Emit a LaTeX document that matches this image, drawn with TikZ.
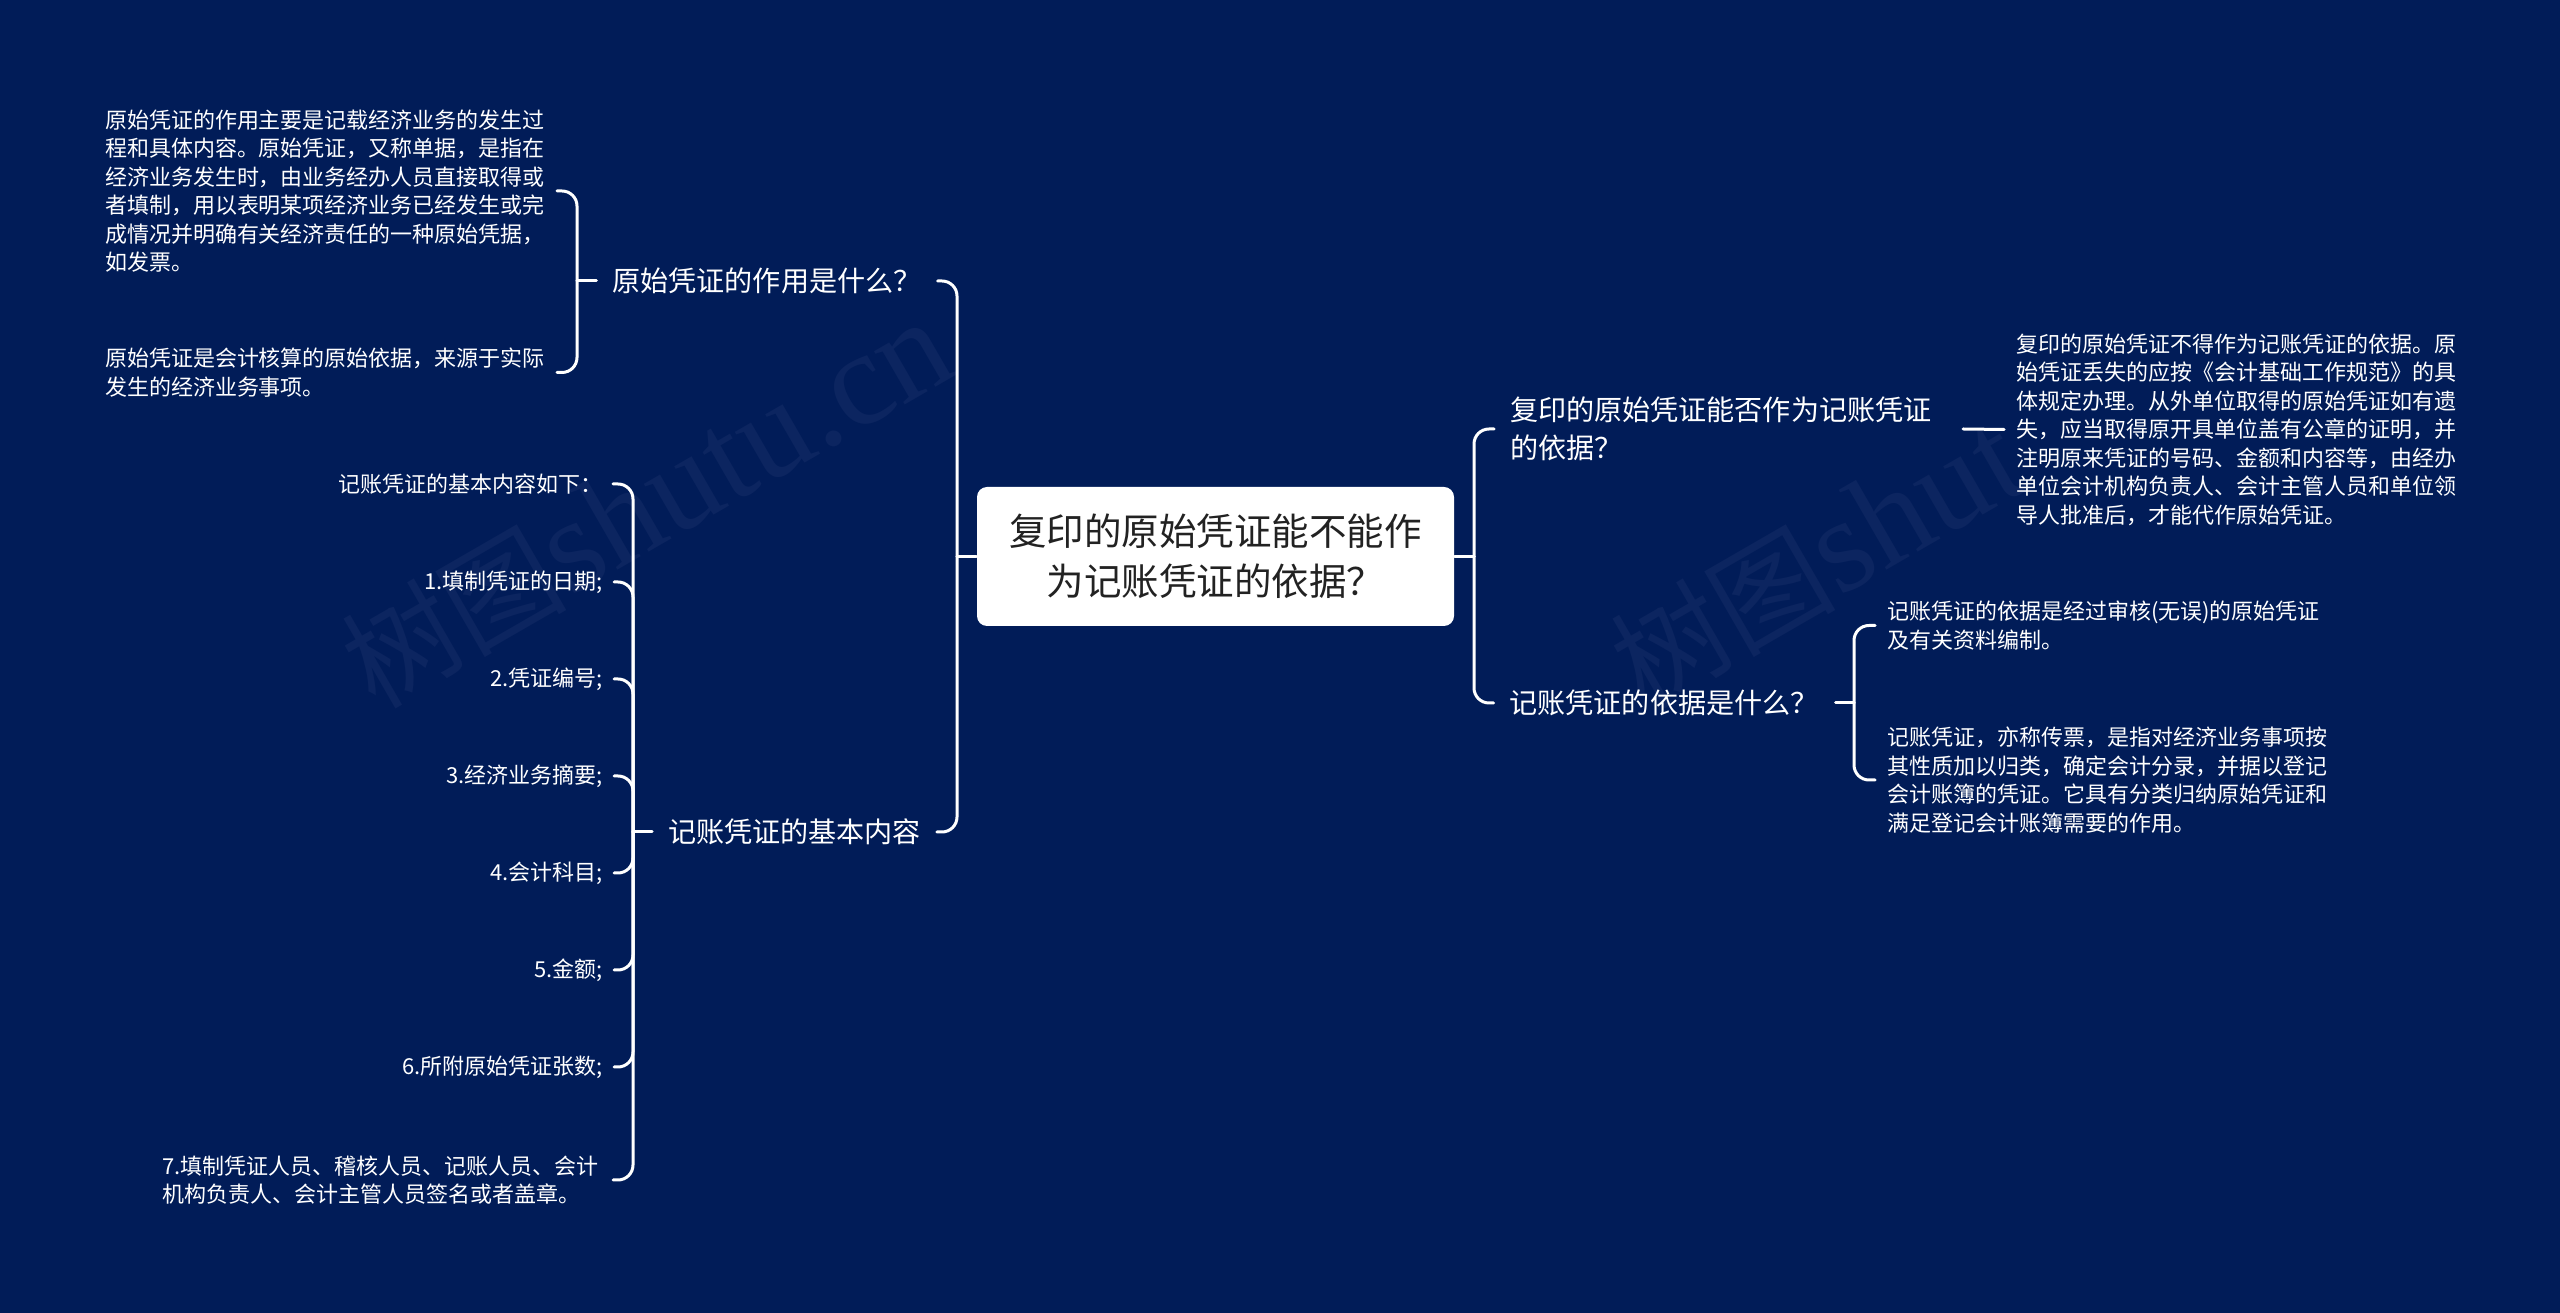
\documentclass[tikz,border=0pt]{standalone}
\usepackage{fontspec}
\setmainfont{Noto Sans CJK SC}
\newfontfamily\markfont{Liberation Serif}
\newfontfamily\markcjk{Noto Sans CJK SC}
\definecolor{bgblue}{HTML}{011C58}
\definecolor{markblue}{HTML}{0C2560}
\definecolor{rootink}{HTML}{222222}
\tikzset{
  rootbox/.style={fill=white,text=rootink,rounded corners=1mm,minimum width=47.7mm,minimum height=13.9mm,inner sep=0pt,align=center,font=\fontsize{3.75mm}{5mm}\selectfont},
  branch/.style={text=white,inner sep=0pt,outer xsep=1.6mm,font=\fontsize{2.81mm}{3.8mm}\selectfont},
  leaf/.style={text=white,inner sep=0pt,outer xsep=1.2mm,text width=44mm,align=left,font=\fontsize{2.2mm}{2.85mm}\selectfont},
  item/.style={text=white,inner sep=0pt,outer xsep=1.1mm,anchor=east,align=left,font=\fontsize{2.2mm}{2.85mm}\selectfont},
  link/.style={draw=white,line width=.3mm,rounded corners=1.5mm,line cap=round},
  wmark/.style={text=markblue,inner sep=0pt,rotate=30,anchor=west,font=\markfont\fontsize{13.4mm}{13.4mm}\selectfont}
}
\begin{document}
\begin{tikzpicture}[x=.1mm,y=-.1mm]
    \fill [bgblue] (0,0) rectangle (2560,1313); % background
    \useasboundingbox (0,0) rectangle (2560,1313);
    \node [wmark] (markL) at (353,674) {{\markcjk\fontsize{11.3mm}{11.3mm}\selectfont 树图}shutu.cn};
    \node [wmark] (markR) at (1622,674) {{\markcjk\fontsize{11.3mm}{11.3mm}\selectfont 树图}shut};
    % centre
    \node [rootbox] (root) at (1215.5,556.5) {复印的原始凭证能不能作\\为记账凭证的依据^^^^ff1f};
    \coordinate (spineL) at (957,556.5); % left trunk
    \coordinate (spineR) at (1474,556.5); % right trunk
    % left side
    \node [branch] (use) at (767,281) {原始凭证的作用是什么^^^^ff1f};
    \node [branch] (content) at (794.5,832) {记账凭证的基本内容};
    \node [leaf] (useA) at (325,191) {原始凭证的作用主要是记载经济业务的发生过\\程和具体内容。原始凭证^^^^ff0c又称单据^^^^ff0c是指在\\经济业务发生时^^^^ff0c由业务经办人员直接取得或\\者填制^^^^ff0c用以表明某项经济业务已经发生或完\\成情况并明确有关经济责任的一种原始凭据^^^^ff0c\\如发票。};
    \node [leaf] (useB) at (325,372.5) {原始凭证是会计核算的原始依据^^^^ff0c来源于实际\\发生的经济业务事项。};
    \coordinate (spineU) at (577,281); % use fork
    \coordinate (spineC) at (633,832); % content fork
    \node [item] (head) at (613,484) {记账凭证的基本内容如下^^^^ff1a};
    \node [item] (itemA) at (614,582) {1.填制凭证的日期;};
    \node [item] (itemB) at (614,679) {2.凭证编号;};
    \node [item] (itemC) at (614,776) {3.经济业务摘要;};
    \node [item] (itemD) at (614,873) {4.会计科目;};
    \node [item] (itemE) at (614,970) {5.金额;};
    \node [item] (itemF) at (614,1067) {6.所附原始凭证张数;};
    \node [item,text width=44mm] (itemG) at (613,1180) {7.填制凭证人员、稽核人员、记账人员、会计\\机构负责人、会计主管人员签名或者盖章。};
    \draw [link] (root.west) -- (spineL);
    \draw [link] (spineL) |- (use.east);
    \draw [link] (spineL) |- (content.east);
    \draw [link] (use.west) -- (spineU);
    \draw [link] (spineU) |- (useA.east);
    \draw [link] (spineU) |- (useB.east);
    \draw [link] (content.west) -- (spineC);
    \draw [link] (spineC) |- (head.east);
    \draw [link] (spineC) |- (itemA.east);
    \draw [link] (spineC) |- (itemB.east);
    \draw [link] (spineC) |- (itemC.east);
    \draw [link] (spineC) |- (itemD.east);
    \draw [link] (spineC) |- (itemE.east);
    \draw [link] (spineC) |- (itemF.east);
    \draw [link] (spineC) |- (itemG.east);
    % right side
    \node [branch,text width=43.7mm,align=left] (copy) at (1728.5,429) {复印的原始凭证能否作为记账凭证\\的依据^^^^ff1f};
    \node [branch,text width=31mm,align=left] (basis) at (1664.5,703) {记账凭证的依据是什么^^^^ff1f};
    \node [leaf] (copyA) at (2236,429.5) {复印的原始凭证不得作为记账凭证的依据。原\\始凭证丢失的应按《会计基础工作规范》的具\\体规定办理。从外单位取得的原始凭证如有遗\\失^^^^ff0c应当取得原开具单位盖有公章的证明^^^^ff0c并\\注明原来凭证的号码、金额和内容等^^^^ff0c由经办\\单位会计机构负责人、会计主管人员和单位领\\导人批准后^^^^ff0c才能代作原始凭证。};
    \node [leaf] (basisA) at (2107,625.5) {记账凭证的依据是经过审核(无误)的原始凭证\\及有关资料编制。};
    \node [leaf] (basisB) at (2107,780) {记账凭证^^^^ff0c亦称传票^^^^ff0c是指对经济业务事项按\\其性质加以归类^^^^ff0c确定会计分录^^^^ff0c并据以登记\\会计账簿的凭证。它具有分类归纳原始凭证和\\满足登记会计账簿需要的作用。};
    \coordinate (spineB) at (1854,703); % basis fork
    \draw [link] (root.east) -- (spineR);
    \draw [link] (spineR) |- (copy.west);
    \draw [link] (spineR) |- (basis.west);
    \draw [link] (copy.east) -- (copyA.west);
    \draw [link] (basis.east) -- (spineB);
    \draw [link] (spineB) |- (basisA.west);
    \draw [link] (spineB) |- (basisB.west);
\end{tikzpicture}
\end{document}
